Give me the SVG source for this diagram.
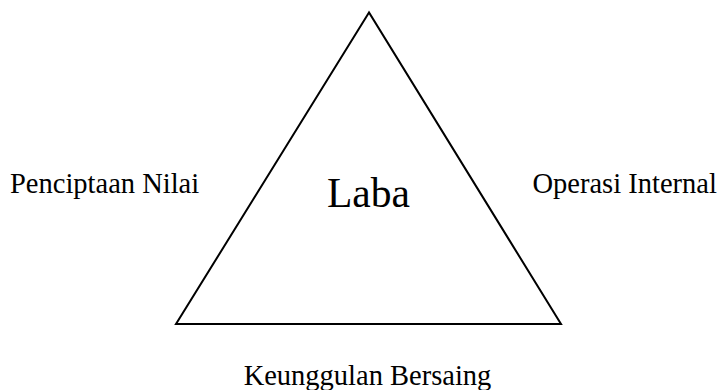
<svg xmlns="http://www.w3.org/2000/svg" width="723" height="390" viewBox="0 0 723 390">
<style>
.t{font-family:"Liberation Serif","Times New Roman",serif;fill:#000}
.s{font-size:28.5px}
</style>
<rect width="723" height="390" fill="#fff"/>
<g id="connectors"></g>
<g id="triangle">
<polygon points="369,12.5 176,324 561,324" fill="none" stroke="#000" stroke-width="2"/>
</g>
<g id="laba"><text class="t" x="368.5" y="207" font-size="41.5" text-anchor="middle">Laba</text></g>
<g id="penciptaan"><text class="t s" x="10" y="193">Penciptaan Nilai</text></g>
<g id="operasi"><text class="t s" x="532.5" y="193">Operasi Internal</text></g>
<g id="keunggulan"><text class="t s" x="367.5" y="385" text-anchor="middle">Keunggulan Bersaing</text></g>
</svg>
